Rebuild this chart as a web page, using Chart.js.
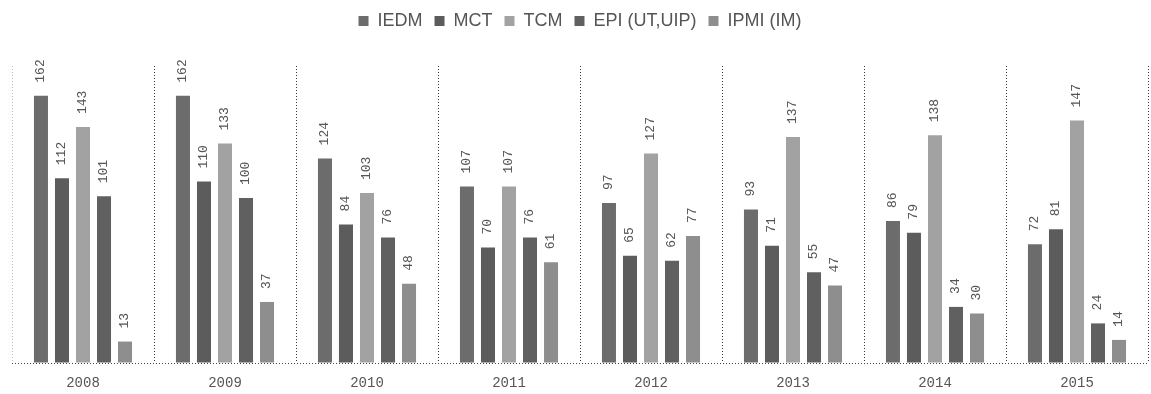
<!DOCTYPE html>
<html>
<head>
<meta charset="utf-8">
<script src="https://cdn.jsdelivr.net/npm/chart.js@4/dist/chart.umd.min.js"></script>
<style>
  html, body { margin: 0; padding: 0; background: #fff; }
  #wrap { width: 1151px; height: 394px; }
</style>
</head>
<body>
<div id="wrap"><canvas id="c" width="1151" height="394"></canvas></div>
<script>
// Years on the x axis
const years = ['2008', '2009', '2010', '2011', '2012', '2013', '2014', '2015'];

// One array per series
const iedm = [162, 162, 124, 107, 97, 93, 86, 72];
const mct  = [112, 110, 84, 70, 65, 71, 79, 81];
const tcm  = [143, 133, 103, 107, 127, 137, 138, 147];
const epi  = [101, 100, 76, 76, 62, 55, 34, 24];
const ipmi = [13, 37, 48, 61, 77, 47, 30, 14];

const seriesNames = ['IEDM', 'MCT', 'TCM', 'EPI (UT,UIP)', 'IPMI (IM)'];
const seriesColors = ['#6c6c6c', '#5c5c5c', '#a2a2a2', '#606060', '#8e8e8e'];
const seriesData = [iedm, mct, tcm, epi, ipmi];

// Vertical value labels above each bar
const rotatedLabels = {
  id: 'rotatedLabels',
  afterDatasetsDraw(chart) {
    const ctx = chart.ctx;
    ctx.save();
    ctx.font = '13px "Liberation Mono", monospace';
    ctx.fillStyle = '#555';
    ctx.textAlign = 'left';
    ctx.textBaseline = 'middle';
    chart.data.datasets.forEach((ds, di) => {
      chart.getDatasetMeta(di).data.forEach((bar, i) => {
        ctx.save();
        ctx.translate(bar.x, bar.y - 13);
        ctx.rotate(-Math.PI / 2);
        ctx.fillText(String(ds.data[i]), 0, 0);
        ctx.restore();
      });
    });
    ctx.restore();
  }
};

// Extra room between the legend and the plot
const legendGap = {
  id: 'legendGap',
  beforeInit(chart) {
    const fit = chart.legend.fit;
    chart.legend.fit = function () {
      fit.bind(chart.legend)();
      this.height += 26;
    };
  }
};

new Chart(document.getElementById('c'), {
  type: 'bar',
  data: {
    labels: years,
    datasets: seriesNames.map((name, k) => ({
      label: name,
      data: seriesData[k],
      backgroundColor: seriesColors[k],
      borderWidth: 0,
      categoryPercentage: 0.74,
      barPercentage: 0.667
    }))
  },
  options: {
    responsive: false,
    animation: false,
    devicePixelRatio: 1,
    layout: { padding: { left: 12, right: 3, top: 0, bottom: 0 } },
    plugins: {
      legend: {
        position: 'top',
        labels: {
          boxWidth: 10,
          boxHeight: 10,
          padding: 12,
          color: '#555',
          font: { family: '"Liberation Sans", Arial, sans-serif', size: 18 }
        }
      },
      tooltip: { enabled: false }
    },
    scales: {
      x: {
        grid: {
          display: true,
          offset: true,
          drawTicks: false,
          color: (c) => (c.index === 0 ? '#bbbbbb' : '#333333'),
          lineWidth: 1
        },
        border: { display: false, dash: [1, 2] },
        ticks: {
          padding: 12,
          color: '#555',
          font: { family: '"Liberation Mono", monospace', size: 14 }
        },
        afterFit: (s) => { s.height = 31; }
      },
      y: {
        display: true,
        min: 0,
        max: 180,
        ticks: { display: false, stepSize: 20 },
        grid: {
          drawTicks: false,
          color: (c) => (c.tick && c.tick.value === 0 ? '#444444' : 'rgba(0,0,0,0)'),
          lineWidth: 1
        },
        border: { display: false, dash: [1, 2] },
        afterFit: (s) => { s.width = 0; }
      }
    }
  },
  plugins: [rotatedLabels, legendGap]
});
</script>
</body>
</html>
